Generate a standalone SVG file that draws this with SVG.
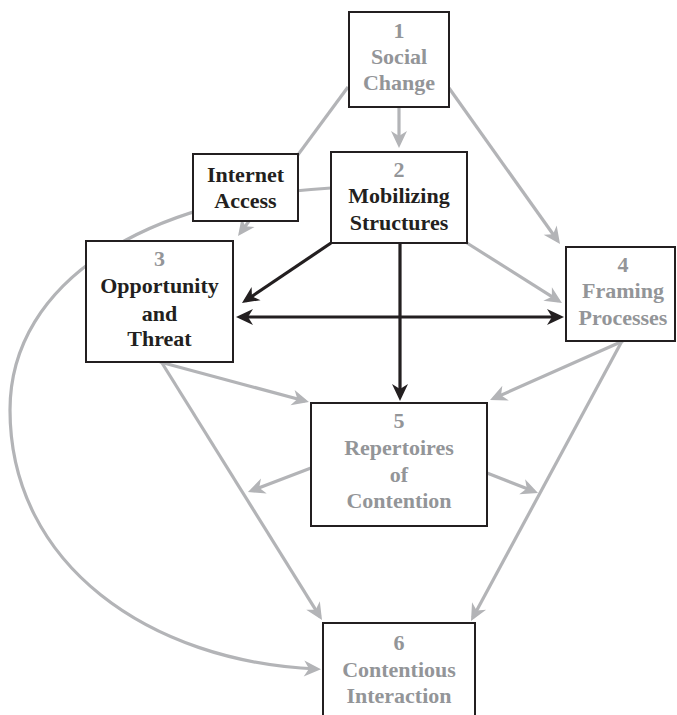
<svg xmlns="http://www.w3.org/2000/svg" width="677" height="715" viewBox="0 0 677 715">
<style>
.box{fill:#fff;stroke:#231f20;stroke-width:2}
.t{font-family:"Liberation Serif","Times New Roman",serif;font-weight:bold;font-size:22px;text-anchor:middle}
.g{fill:#939598}
.k{fill:#231f20}
.cg{fill:none;stroke:#b3b4b7;stroke-width:3.2;marker-end:url(#ag)}
.cn{fill:none;stroke:#b3b4b7;stroke-width:3.2}
.ck{fill:none;stroke:#231f20;stroke-width:3.2;marker-end:url(#ak)}
</style>
<defs>
<marker id="ag" viewBox="-14 -9 19 18" refX="0" refY="0" markerWidth="19" markerHeight="18" markerUnits="userSpaceOnUse" orient="auto-start-reverse">
<path d="M-13,-8 L4,0 L-13,8 L-8,0 z" fill="#b3b4b7"/>
</marker>
<marker id="ak" viewBox="-14 -9 19 18" refX="0" refY="0" markerWidth="19" markerHeight="18" markerUnits="userSpaceOnUse" orient="auto-start-reverse">
<path d="M-13,-8 L4,0 L-13,8 L-8,0 z" fill="#231f20"/>
</marker>
</defs>
<g id="connectors">
<path class="cg" d="M399,107 L399,144"/>
<path class="cg" d="M348,87 L240.4,232.8"/>
<path class="cg" d="M449,88 L557.7,240.7"/>
<path class="cg" d="M331,188 C150,198 10,280 10,410 C10,565 150,662 317,669"/>
<path class="cg" d="M467,243 L558.6,300.9"/>
<path class="cg" d="M160,362 L305.1,401"/>
<path class="cg" d="M162,363 L319.9,616.6"/>
<path class="cg" d="M623,341 L493.7,398.4"/>
<path class="cg" d="M622,341 L472.9,617.5"/>
<path class="cg" d="M311,468 L251.7,490.6"/>
<path class="cg" d="M487,473 L534.3,491.5"/>
<path class="ck" d="M331,243 L245.3,300.8"/>
<path class="ck" d="M400,243 L400,397"/>
<path class="ck" d="M240,317 L560,317" marker-start="url(#ak)"/>
</g>
<g id="n1">
<rect class="box" x="349" y="12" width="100" height="95"/>
<text class="t g" x="399" y="38">1</text>
<text class="t g" x="399" y="64">Social</text>
<text class="t g" x="399" y="90">Change</text>
</g>
<g id="internet">
<rect class="box" x="193" y="154" width="105" height="67"/>
<text class="t k" x="245.5" y="182">Internet</text>
<text class="t k" x="245.5" y="208">Access</text>
</g>
<g id="n2">
<rect class="box" x="331" y="152" width="136" height="91"/>
<text class="t g" x="399" y="177">2</text>
<text class="t k" x="399" y="203">Mobilizing</text>
<text class="t k" x="399" y="230">Structures</text>
</g>
<g id="n3">
<rect class="box" x="86" y="241" width="147" height="121"/>
<text class="t g" x="159.5" y="266">3</text>
<text class="t k" x="159.5" y="293">Opportunity</text>
<text class="t k" x="159.5" y="321">and</text>
<text class="t k" x="159.5" y="346">Threat</text>
</g>
<g id="n4">
<rect class="box" x="566" y="247" width="109" height="94"/>
<text class="t g" x="623" y="272">4</text>
<text class="t g" x="623" y="298">Framing</text>
<text class="t g" x="623" y="325">Processes</text>
</g>
<g id="n5">
<rect class="box" x="311" y="403" width="176" height="123"/>
<text class="t g" x="399" y="428">5</text>
<text class="t g" x="399" y="455">Repertoires</text>
<text class="t g" x="399" y="482">of</text>
<text class="t g" x="399" y="508">Contention</text>
</g>
<g id="n6">
<rect class="box" x="323" y="623" width="152" height="105"/>
<text class="t g" x="399" y="650">6</text>
<text class="t g" x="399" y="677">Contentious</text>
<text class="t g" x="399" y="703">Interaction</text>
</g>
</svg>
